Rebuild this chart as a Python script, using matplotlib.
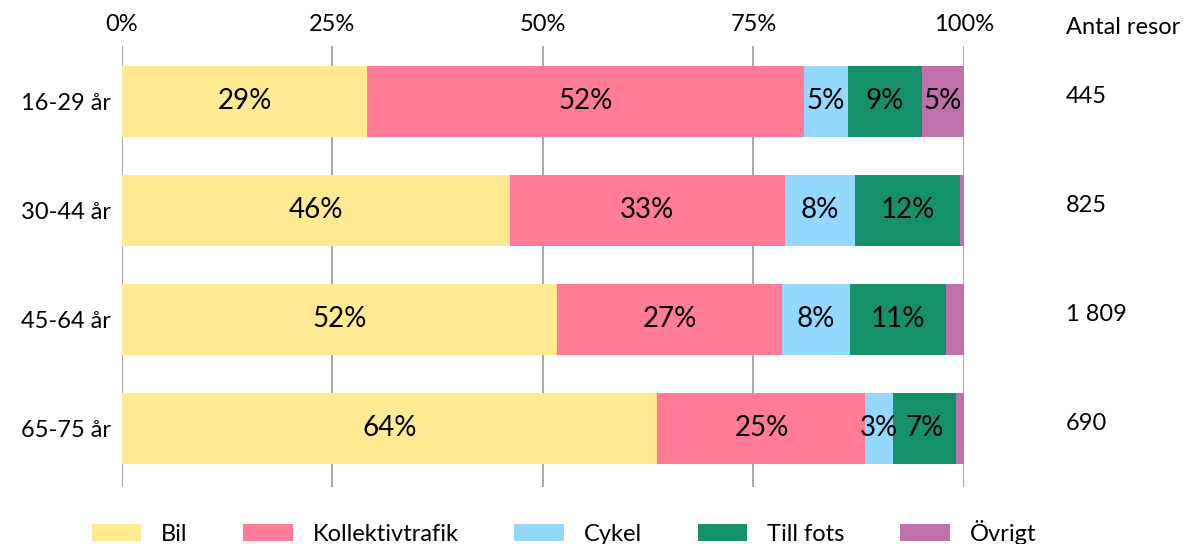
import matplotlib
matplotlib.use('Agg')
from matplotlib import pyplot as plt
from matplotlib.ticker import FuncFormatter

plt.rcParams['font.family'] = ['Lato', 'DejaVu Sans']

# Data
age_groups = ['16-29 år', '30-44 år', '45-64 år', '65-75 år']
modes = ['Bil', 'Kollektivtrafik', 'Cykel', 'Till fots', 'Övrigt']
bil = [29.1, 46.1, 51.7, 63.6]
kollektiv = [51.9, 32.6, 26.7, 24.7]
cykel = [5.2, 8.4, 8.1, 3.3]
till_fots = [8.8, 12.4, 11.4, 7.4]
ovrigt = [5.0, 0.5, 2.1, 1.0]
antal_resor = ['445', '825', '1 809', '690']

series = [bil, kollektiv, cykel, till_fots, ovrigt]
colors = ['#FFEA91', '#FF7B96', '#94D7FF', '#14916B', '#BE71AA']

fig = plt.figure(figsize=(11.91, 5.44), dpi=100)
ax = fig.add_axes([0.1024, 0.1048, 0.707, 0.8106])

y = list(range(len(age_groups)))
left = [0.0] * len(age_groups)
for name, vals, col in zip(modes, series, colors):
    bars = ax.barh(y, vals, left=left, height=0.65, color=col, label=name, zorder=2)
    for b, v in zip(bars, vals):
        if round(v) >= 3:
            ax.text(b.get_x() + b.get_width() / 2, b.get_y() + b.get_height() / 2,
                    '%.0f%%' % v, ha='center', va='center', fontsize=20, color='black', zorder=3)
    left = [l + v for l, v in zip(left, vals)]

ax.set_xlim(0, 100)
ax.set_ylim(3.54, -0.505)
ax.set_xticks([0, 25, 50, 75, 100])
ax.xaxis.set_major_formatter(FuncFormatter(lambda v, p: '%d%%' % v))
ax.xaxis.tick_top()
ax.tick_params(axis='x', length=0, pad=8, labelsize=17)
ax.set_yticks(y)
ax.set_yticklabels(age_groups)
ax.tick_params(axis='y', length=0, pad=8, labelsize=17)
ax.grid(axis='x', color='#9a9a9a', linewidth=1.2, zorder=0)
ax.set_axisbelow(True)
for s in ax.spines.values():
    s.set_visible(False)

# Antal resor kolumn
tr = matplotlib.transforms.blended_transform_factory(fig.transFigure, ax.transData)
fig.text(0.895, 1 - 28 / 544, 'Antal resor', ha='left', va='center', fontsize=17)
for i, n in enumerate(antal_resor):
    ax.text(0.895, i - 0.04, n, transform=tr, ha='left', va='center', fontsize=17)

fig.legend(loc='center', bbox_to_anchor=(0.4735, 0.022), ncol=5, frameon=False,
           fontsize=17, handlelength=2.1, handleheight=0.76, handletextpad=0.85,
           columnspacing=2.35, borderpad=0)

fig.savefig('out.png', dpi=100)
